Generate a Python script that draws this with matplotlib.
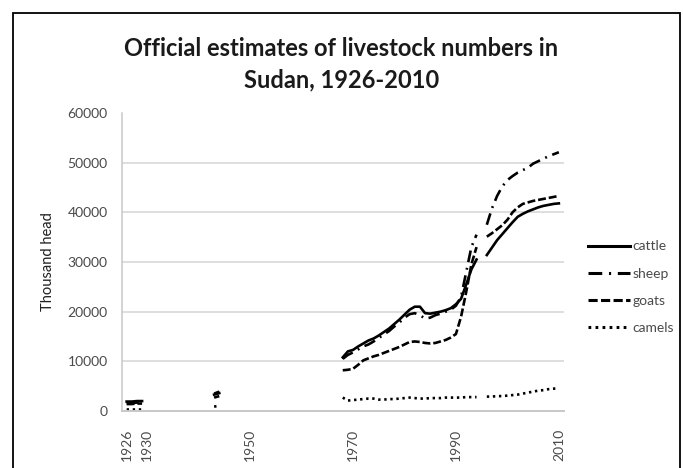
import numpy as np
import pandas as pd
import matplotlib
matplotlib.use("Agg")
import matplotlib.pyplot as plt
from matplotlib.patches import Rectangle

plt.rcParams['font.family'] = ['Lato', 'DejaVu Sans']

# Livestock estimates, thousand head (None = no estimate published)
years = [1926, 1927, 1928, 1929, 1943, 1944] + list(range(1968, 2011))

cattle = [1900, 1900, 2000, 2000, 3300, 3600,
          10800, 12000, 12300, 13000, 13600, 14200, 14600, 15200, 15900, 16600,
          17500, 18400, 19400, 20400, 21000, 21000, 19700, 19600, 19800, 20000,
          20300, 20700, 21500, 22600, 25500, 28500, 30500, None, 31400, 32900,
          34400, 35600, 36800, 38000, 39100, 39700, 40200, 40600, 41000, 41300,
          41500, 41700, 41800]

sheep = [1600, 1600, 1700, 1700, 3500, 3900,
         10500, 11300, 11800, 12400, 13000, 13400, 14000, 14700, 15400, 16100,
         17000, 17800, 18800, 19500, 19700, 19300, 18600, 18800, 19300, 19600,
         20000, 20400, 21200, 23000, 28000, 33000, 35500, None, 37500, 40800,
         43300, 45200, 46500, 47300, 48000, 48500, 49000, 49800, 50300, 50800,
         51300, 51700, 52100]

goats = [1400, 1400, 1500, 1500, 2700, 3000,
         8200, 8300, 8500, 9300, 10200, 10600, 11000, 11300, 11700, 12100,
         12500, 12900, 13400, 13900, 14000, 13900, 13700, 13600, 13700, 14000,
         14300, 14800, 15500, 19000, 24000, 29500, 33000, None, 35100, 35800,
         36600, 37400, 38500, 40000, 41000, 41700, 42000, 42300, 42500, 42700,
         42900, 43100, 43300]

camels = [300, 300, 300, 300, 900, 1000,
          2700, 2100, 2200, 2300, 2400, 2500, 2500, 2300, 2300, 2400,
          2400, 2500, 2600, 2700, 2600, 2500, 2500, 2600, 2600, 2600,
          2700, 2700, 2700, 2700, 2800, 2800, 2800, None, 2900, 2900,
          3000, 3000, 3100, 3200, 3300, 3500, 3700, 3900, 4100, 4200,
          4400, 4500, 4600]

x_ticks = [1926, 1930, 1950, 1970, 1990, 2010]
y_ticks = [0, 10000, 20000, 30000, 40000, 50000, 60000]

df = pd.DataFrame({'cattle': cattle, 'sheep': sheep, 'goats': goats,
                   'camels': camels}, index=years, dtype=float)
# Put the series on a continuous yearly index so missing years break the lines
df = df.reindex(range(1926, 2011))

fig = plt.figure(figsize=(6.83, 4.68), dpi=100)
ax = fig.add_axes([121.5 / 683, 57 / 468, (564 - 121.5) / 683, 298 / 468])

lw = 1.9
styles = {
    'cattle': dict(linestyle='-'),
    'sheep': dict(linestyle=(0, (4.5, 2.2, 0.7, 2.2))),
    'goats': dict(linestyle=(0, (3.0, 1.1))),
    'camels': dict(linestyle=(0, (0.9, 1.4))),
}
for name in ['cattle', 'sheep', 'goats', 'camels']:
    ax.plot(df.index, df[name], color='black', linewidth=lw,
            label=name, **styles[name])

ax.set_xlim(1925, 2011)
ax.set_ylim(0, 60000)
ax.set_xticks(x_ticks)
ax.set_xticklabels([str(t) for t in x_ticks], rotation=90)
ax.set_yticks(y_ticks)
ax.set_yticklabels([str(t) for t in y_ticks])
ax.tick_params(axis='both', length=0, labelsize=10, colors='#4a4a4a')
ax.tick_params(axis='y', pad=10)
ax.tick_params(axis='x', pad=13)

ax.yaxis.grid(True, color='#d4d4d4', linewidth=1.1)
ax.set_axisbelow(True)
for gl in ax.yaxis.get_gridlines()[-1:]:
    gl.set_visible(False)
for side in ['top', 'right']:
    ax.spines[side].set_visible(False)
ax.spines['left'].set_color('#c8c8c8')
ax.spines['bottom'].set_color('#c8c8c8')
ax.spines['left'].set_linewidth(1.1)
ax.spines['bottom'].set_linewidth(1.4)

ax.set_ylabel('Thousand head', fontsize=10.5, color='#202020', labelpad=9)

leg = ax.legend(loc='center left', bbox_to_anchor=(1.054, 0.415), frameon=False,
                fontsize=10, handlelength=3.0, handletextpad=0.2,
                labelspacing=1.1, borderaxespad=0, borderpad=0)
for t in leg.get_texts():
    t.set_color('#4a4a4a')
for h in leg.get_lines():
    h.set_linewidth(2.2)

fig.text(0.5, 1 - 48 / 468, 'Official estimates of livestock numbers in',
         ha='center', va='center', fontsize=17, fontweight='bold',
         color='#1a1a1a')
fig.text(0.5, 1 - 80 / 468, 'Sudan, 1926-2010',
         ha='center', va='center', fontsize=17, fontweight='bold',
         color='#1a1a1a')

# Chart frame (continues below the bottom edge)
frame = Rectangle((13 / 683, -0.2), (680 - 13) / 683, 0.2 + (468 - 13) / 468,
                  transform=fig.transFigure, fill=False, edgecolor='black',
                  linewidth=1.3, clip_on=False)
fig.add_artist(frame)

fig.savefig('out.png', dpi=100)
